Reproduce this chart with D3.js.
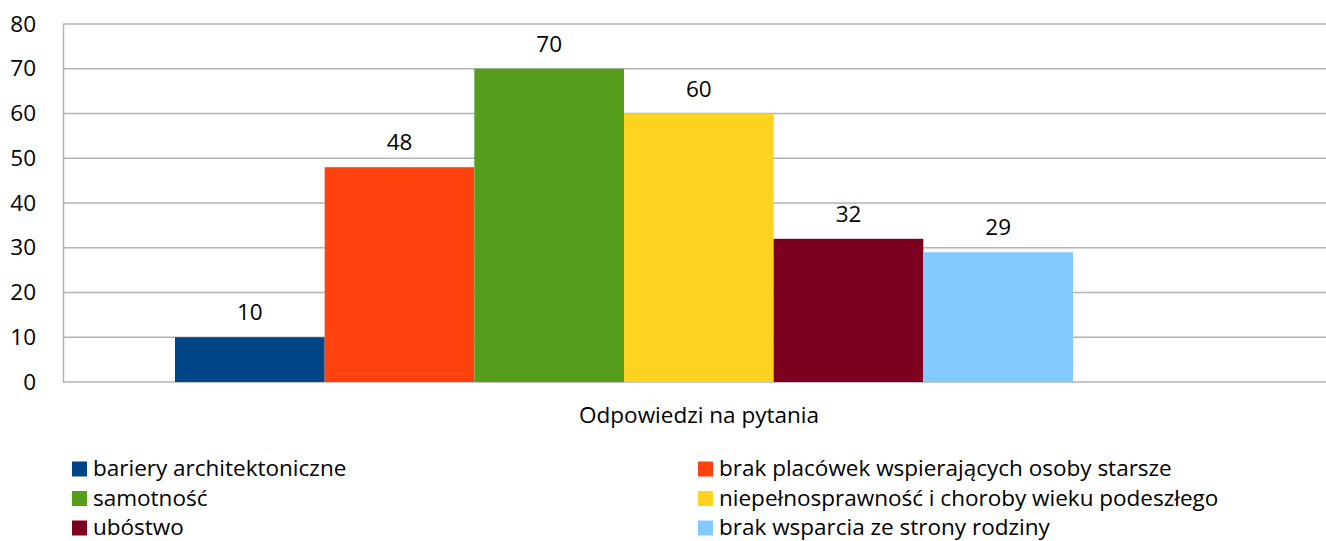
<!DOCTYPE html>
<html>
<head>
<meta charset="utf-8">
<script src="https://cdn.jsdelivr.net/npm/d3@7"></script>
<style>
	body { margin: 0; background: #fff; }
	text { font-family: "Open Sans", "DejaVu Sans", sans-serif; fill: #000; }
</style>
</head>
<body>
<div id="chart"></div>
<script>
/* grouped bar chart, one category, six series */

const category = "Odpowiedzi na pytania"
const seriesNames = [
	"bariery architektoniczne",
	"brak placówek wspierających osoby starsze",
	"samotność",
	"niepełnosprawność i choroby wieku podeszłego",
	"ubóstwo",
	"brak wsparcia ze strony rodziny"
]
const seriesValues = [10, 48, 70, 60, 32, 29]
const seriesColors = ["#004586", "#ff420e", "#579d1c", "#ffd320", "#7e0021", "#83caff"]
const yTicks = [0, 10, 20, 30, 40, 50, 60, 70, 80]

const width = 1326, height = 541
const margin = {top: 24, right: 0, bottom: 159, left: 63}
const plotW = width - margin.left - margin.right
const plotH = height - margin.top - margin.bottom
const fs = 22.5

let svg = d3.select("#chart").append("svg")
	.attr("width", width)
	.attr("height", height)
	.attr("viewBox", [0, 0, width, height])

let y = d3.scaleLinear()
	.domain([0, 80])
	.range([margin.top + plotH, margin.top])

// the category band, bars packed inside it
let x0 = d3.scaleBand()
	.domain([category])
	.range([margin.left, margin.left + plotW])
let x1 = d3.scaleBand()
	.domain(seriesNames)
	.range([112, 1010])

// grid
svg.append("g")
	.selectAll("line")
	.data(yTicks)
	.join("line")
	.attr("x1", margin.left)
	.attr("x2", margin.left + plotW)
	.attr("y1", d => y(d))
	.attr("y2", d => y(d))
	.attr("stroke", "#b3b3b3")
	.attr("stroke-width", 1.5)

// y axis
svg.append("g")
	.attr("transform", `translate(${margin.left},0)`)
	.call(d3.axisLeft(y).tickValues(yTicks).tickSize(0).tickPadding(27))
	.call(g => g.select(".domain").attr("stroke", "#b3b3b3").attr("stroke-width", 1.5))
	.call(g => g.selectAll("text").attr("font-size", fs).attr("font-family", "Open Sans, sans-serif").attr("fill", "#000"))

let bars = svg.append("g")
	.attr("transform", `translate(${x0(category)},0)`)

bars.selectAll("rect")
	.data(seriesValues)
	.join("rect")
	.attr("x", (d, i) => x1(seriesNames[i]))
	.attr("width", x1.bandwidth())
	.attr("y", d => y(d))
	.attr("height", d => y(0) - y(d))
	.attr("fill", (d, i) => seriesColors[i])

bars.selectAll("text")
	.data(seriesValues)
	.join("text")
	.attr("x", (d, i) => x1(seriesNames[i]) + x1.bandwidth() / 2)
	.attr("y", d => y(d) - 17)
	.attr("text-anchor", "middle")
	.attr("font-size", fs)
	.text(d => d)

// x axis label
svg.append("text")
	.attr("x", 699)
	.attr("y", 423)
	.attr("text-anchor", "middle")
	.attr("font-size", fs)
	.text(category)

// legend, two columns
let legend = svg.append("g")
	.selectAll("g")
	.data(seriesNames)
	.join("g")
	.attr("transform", (d, i) => `translate(${i % 2 ? 698 : 72},${461.5 + Math.floor(i / 2) * 29.5})`)

legend.append("rect")
	.attr("width", 15)
	.attr("height", 15)
	.attr("fill", (d, i) => seriesColors[i])

legend.append("text")
	.attr("x", 21)
	.attr("y", 7.5)
	.attr("dy", "0.33em")
	.attr("font-size", fs)
	.text(d => d)
</script>
</body>
</html>
